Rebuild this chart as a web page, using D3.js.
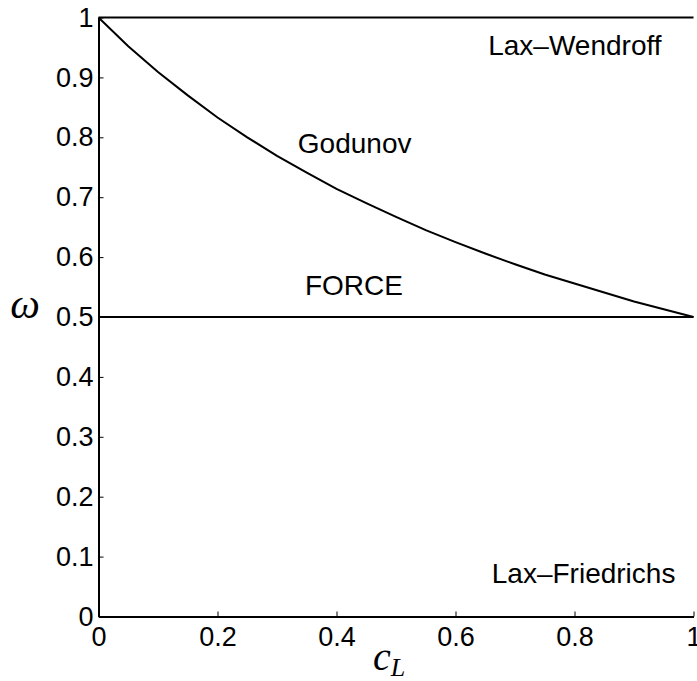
<!DOCTYPE html>
<html>
<head>
<meta charset="utf-8">
<script src="https://cdn.jsdelivr.net/npm/d3@7"></script>
<style>
  html, body { margin: 0; padding: 0; background: #fff; }
  svg { display: block; }
  .tick text { font-family: "Liberation Sans", Arial, sans-serif; font-size: 27px; fill: #000; }
  .note { font-family: "Liberation Sans", Arial, sans-serif; font-size: 28px; fill: #000; }
  .math { font-family: "Liberation Serif", "Times New Roman", serif; font-style: italic; fill: #000; }
</style>
</head>
<body>
<svg id="chart" width="697" height="681"></svg>
<script>
// Courant number c_L and weight omega along the Godunov boundary
const courant = [0, 0.05, 0.1, 0.15, 0.2, 0.25, 0.3, 0.35, 0.4, 0.45, 0.5,
                 0.55, 0.6, 0.65, 0.7, 0.75, 0.8, 0.85, 0.9, 0.95, 1];
const godunovOmega = [1.000, 0.952, 0.909, 0.870, 0.833, 0.800, 0.769, 0.741, 0.714, 0.690, 0.667,
                      0.645, 0.625, 0.606, 0.588, 0.571, 0.556, 0.541, 0.526, 0.513, 0.500];
// Constant-weight schemes
const laxWendroffOmega = [1, 1];
const forceOmega = [0.5, 0.5];
const constantC = [0, 1];

const xTicks = [0, 0.2, 0.4, 0.6, 0.8, 1];
const xTickLabels = ["0", "0.2", "0.4", "0.6", "0.8", "1"];
const yTicks = [0, 0.1, 0.2, 0.3, 0.4, 0.5, 0.6, 0.7, 0.8, 0.9, 1];
const yTickLabels = ["0", "0.1", "0.2", "0.3", "0.4", "0.5", "0.6", "0.7", "0.8", "0.9", "1"];

// Region annotations: [text, c, omega]
const regionLabels = [
  ["Lax\u2013Wendroff", 0.655, 0.937],
  ["Godunov", 0.335, 0.774],
  ["FORCE", 0.347, 0.537],
  ["Lax\u2013Friedrichs", 0.661, 0.056]
];

const svg = d3.select("#chart");
const x = d3.scaleLinear().domain([0, 1]).range([98.5, 693.5]);
const y = d3.scaleLinear().domain([0, 1]).range([616.5, 17.5]);

const line = d3.line().x(d => x(d[0])).y(d => y(d[1]));

// Axes with inward ticks
const xAxis = d3.axisBottom(x)
  .tickValues(xTicks)
  .tickFormat((d, i) => xTickLabels[i])
  .tickSizeInner(-5).tickSizeOuter(0).tickPadding(10);
const yAxis = d3.axisLeft(y)
  .tickValues(yTicks)
  .tickFormat((d, i) => yTickLabels[i])
  .tickSizeInner(-5).tickSizeOuter(0).tickPadding(5);

const gx = svg.append("g").attr("transform", `translate(0,${y(0)})`).call(xAxis);
const gy = svg.append("g").attr("transform", `translate(${x(0)},0)`).call(yAxis);
[gx, gy].forEach(g => {
  g.attr("font-size", null).attr("font-family", null);
  g.select(".domain").attr("stroke", "#000").attr("stroke-width", 2);
  g.selectAll(".tick line").attr("stroke", "#000").attr("stroke-width", 1);
});

// Boundary curves
const curves = [
  d3.zip(constantC, laxWendroffOmega),
  d3.zip(courant, godunovOmega),
  d3.zip(constantC, forceOmega)
];
svg.append("g").selectAll("path").data(curves).join("path")
  .attr("d", line)
  .attr("fill", "none")
  .attr("stroke", "#000")
  .attr("stroke-width", 2);

// Region names
svg.append("g").selectAll("text").data(regionLabels).join("text")
  .attr("class", "note")
  .attr("x", d => x(d[1]))
  .attr("y", d => y(d[2]))
  .text(d => d[0]);

// Axis titles
svg.append("text").attr("class", "math")
  .attr("x", 25).attr("y", 318)
  .attr("text-anchor", "middle")
  .attr("font-size", 42)
  .text("\u03C9");

const xt = svg.append("text").attr("class", "math").attr("x", 373).attr("y", 670);
xt.append("tspan").attr("font-size", 40).text("c");
xt.append("tspan").attr("font-size", 26).attr("dy", 6).text("L");
</script>
</body>
</html>
